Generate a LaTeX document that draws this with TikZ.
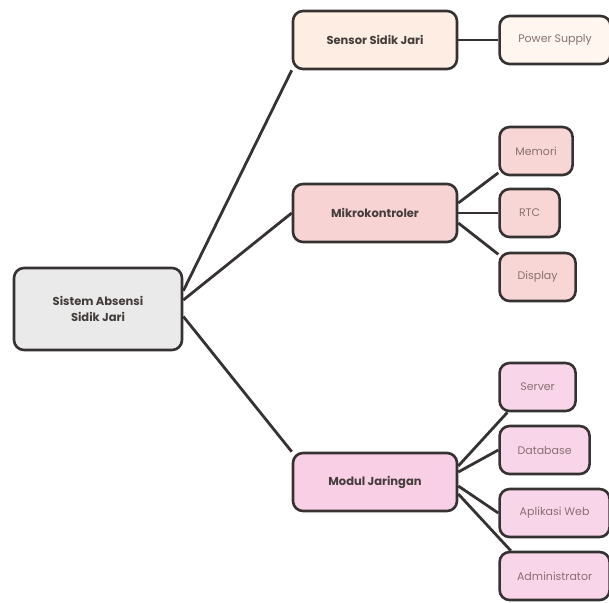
\documentclass[tikz,border=0pt]{standalone}
\usepackage{fontspec}
\setmainfont{Poppins}
\usetikzlibrary{positioning}
\definecolor{edgegray}{HTML}{363232}
\definecolor{textdark}{HTML}{453C3C}
\definecolor{textsoft}{HTML}{8A7070}
\definecolor{rootgray}{HTML}{EAEAEA}
\definecolor{sensorpeach}{HTML}{FDEDE2}
\definecolor{powercream}{HTML}{FEF6EF}
\definecolor{mikropink}{HTML}{F8D3D3}
\definecolor{mikrolight}{HTML}{F9D6D6}
\definecolor{modulpink}{HTML}{F8CFE4}
\definecolor{modullight}{HTML}{F9D5EA}

\begin{document}
\begin{tikzpicture}[rounded corners=10pt, line width=2.6pt,
 topbox/.style={draw=edgegray, fill=#1, align=center, minimum width=164pt, minimum height=58pt, font=\fontsize{11.5}{16}\selectfont\bfseries, text=textdark},
 leafbox/.style={draw=edgegray, fill=#1, align=center, minimum height=48pt, inner xsep=4pt, font=\fontsize{11}{14}\selectfont, text=textsoft},
 link/.style={draw=edgegray, line width=2.8pt}]
\useasboundingbox (0,0) rectangle (609pt,-602pt);
\node [topbox=rootgray, minimum width=168pt, minimum height=82pt] (sistem) at (98pt,-309pt) {Sistem Absensi \\ Sidik Jari};
\node [topbox=sensorpeach] (sensor) at (375pt,-40pt) {Sensor Sidik Jari};
\node [topbox=mikropink] (mikro) at (375pt,-213pt) {Mikrokontroler};
\node [topbox=modulpink] (modul) at (375pt,-482pt) {Modul Jaringan};
\node [leafbox=powercream, minimum width=111pt, right=40pt of sensor] (power) {Power Supply};
\node [leafbox=mikrolight, minimum width=73pt, right=40pt of mikro, yshift=62pt] (memori) {Memori};
\node [leafbox=mikrolight, minimum width=60pt, right=40pt of mikro] (rtc) {RTC};
\node [leafbox=mikrolight, minimum width=76pt, right=40pt of mikro, yshift=-64pt] (display) {Display};
\node [leafbox=modullight, minimum width=76pt, right=40pt of modul, yshift=95pt] (server) {Server};
\node [leafbox=modullight, minimum width=90pt, right=40pt of modul, yshift=32pt] (database) {Database};
\node [leafbox=modullight, minimum width=110pt, right=40pt of modul, yshift=-31pt] (aplikasi) {Aplikasi Web};
\node [leafbox=modullight, minimum width=110pt, right=40pt of modul, yshift=-94pt] (admin) {Administrator};
\path[link]
 (sistem.12) edge (sensor.200)
 (sistem.6) edge (mikro.west)
 (sistem.-5) edge (modul.160)
 (sensor.east) edge (power.west)
 ([yshift=10pt]mikro.east) edge (memori.210)
 (mikro.east) edge (rtc.west)
 ([yshift=-10pt]mikro.east) edge (display.150)
 ([yshift=16pt]modul.east) edge (server.220)
 ([yshift=10pt]modul.east) edge (database.west)
 ([yshift=-4pt]modul.east) edge (aplikasi.west)
 ([yshift=-12pt]modul.east) edge (admin.150);
\end{tikzpicture}
\end{document}
